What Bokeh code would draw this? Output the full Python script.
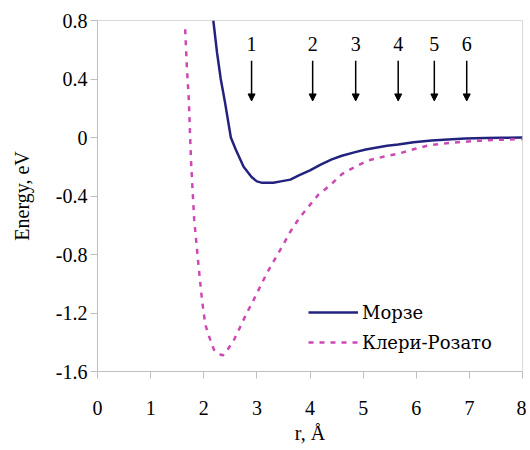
from bokeh.plotting import figure
from bokeh.models import (ColumnDataSource, Arrow, NormalHead, LabelSet,
                          FixedTicker, Range1d)
from bokeh.core.properties import value
from bokeh.embed import file_html
from bokeh.resources import INLINE

# ---- data ----
morse_r = [2.18, 2.25, 2.32, 2.40, 2.51, 2.60, 2.75, 2.90, 3.00, 3.10, 3.20, 3.31,
           3.45, 3.63, 3.80, 4.00, 4.20, 4.41, 4.60, 4.85, 5.05, 5.29, 5.45, 5.66,
           5.95, 6.29, 6.60, 6.92, 7.30, 7.60, 8.00]
morse_e = [0.80, 0.58, 0.40, 0.24, 0.00, -0.08, -0.20, -0.27, -0.30, -0.31, -0.31, -0.31,
           -0.30, -0.288, -0.258, -0.225, -0.185, -0.150, -0.125, -0.100, -0.082, -0.066,
           -0.056, -0.048, -0.032, -0.020, -0.013, -0.007, -0.004, -0.002, 0.0]

cr_r = [1.65, 1.68, 1.72, 1.76, 1.82, 1.90, 1.97, 2.03, 2.09, 2.19, 2.28, 2.36, 2.45,
        2.56, 2.68, 2.81, 2.94, 3.06, 3.20, 3.35, 3.50, 3.63, 3.80, 3.97, 4.16, 4.38,
        4.60, 4.85, 5.10, 5.40, 5.66, 5.95, 6.23, 6.50, 6.79, 7.15, 7.54, 8.00]
cr_e = [0.74, 0.50, 0.25, -0.16, -0.56, -0.87, -1.12, -1.28, -1.35, -1.45, -1.48, -1.49,
        -1.45, -1.39, -1.30, -1.20, -1.11, -1.02, -0.92, -0.825, -0.73, -0.644, -0.55,
        -0.474, -0.39, -0.327, -0.25, -0.20, -0.156, -0.13, -0.111, -0.08, -0.054,
        -0.042, -0.032, -0.023, -0.016, -0.01]

arrow_x = [2.9, 4.05, 4.86, 5.66, 6.34, 6.95]
arrow_labels = ["1", "2", "3", "4", "5", "6"]
arrow_top = 0.525
arrow_tip = 0.25
label_y = 0.64

x_ticks = [0, 1, 2, 3, 4, 5, 6, 7, 8]
y_ticks = [-1.6, -1.2, -0.8, -0.4, 0, 0.4, 0.8]
y_tick_labels = ["-1.6", "-1.2", "-0.8", "-0.4", "0", "0.4", "0.8"]

series_names = ["Морзе", "Клери-Розато"]
colors = ["#23237f", "#cc48b4"]

FONT = "'Liberation Serif', 'Times New Roman', serif"
LEG_FONT = "DejaVu Serif"
FS = "20px"

p = figure(width=526, height=446, output_backend="svg", toolbar_location=None,
           x_range=Range1d(0, 8), y_range=Range1d(-1.6, 0.8),
           min_border_left=97, min_border_right=4, min_border_top=20, min_border_bottom=75)
p.background_fill_color = "white"
p.border_fill_color = "white"
p.outline_line_color = "#d9d9d9"
p.xgrid.visible = False
p.ygrid.visible = False

p.line(morse_r, morse_e, line_color=colors[0], line_width=2.5, legend_label=series_names[0])
p.line(cr_r, cr_e, line_color=colors[1], line_width=2.5, line_dash="5 6",
       legend_label=series_names[1])

for ax in (p.xaxis[0], p.yaxis[0]):
    ax.axis_line_color = "#bfbfbf"
    ax.major_tick_line_color = "#bfbfbf"
    ax.minor_tick_line_color = None
    ax.major_tick_in = 0
    ax.major_tick_out = 7
    ax.major_label_text_font = FONT
    ax.major_label_text_font_size = FS
    ax.major_label_text_font_style = "normal"
    ax.major_label_text_color = "black"
    ax.axis_label_text_font = FONT
    ax.axis_label_text_font_size = FS
    ax.axis_label_text_font_style = "normal"
    ax.axis_label_text_color = "black"

p.xaxis.ticker = FixedTicker(ticks=x_ticks)
p.yaxis.ticker = FixedTicker(ticks=y_ticks)
p.yaxis.major_label_overrides = {t: s for t, s in zip(y_ticks, y_tick_labels)}
p.xaxis.major_label_standoff = 22
p.yaxis.major_label_standoff = 3

p.yaxis.axis_label = "Energy, eV"
p.yaxis.axis_label_standoff = 20
p.xaxis.axis_label = "r, Å"
p.xaxis.axis_label_standoff = 4

# arrows with numbers
asrc = ColumnDataSource(dict(x=arrow_x, y0=[arrow_top] * len(arrow_x),
                             y1=[arrow_tip] * len(arrow_x), ly=[label_y] * len(arrow_x),
                             t=arrow_labels))
p.add_layout(Arrow(end=NormalHead(size=7, fill_color="black", line_color="black", line_width=1),
                   x_start="x", y_start="y0", x_end="x", y_end="y1", source=asrc,
                   line_color="black", line_width=1.5))
p.add_layout(LabelSet(x="x", y="ly", text="t", source=asrc, text_align="center",
                      text_baseline="middle", text_font=value(FONT), text_font_size=value(FS),
                      text_font_style=value("normal"), text_color="black"))

lg = p.legend[0]
lg.location = (211, 14)
lg.border_line_color = None
lg.background_fill_alpha = 0
lg.padding = 0
lg.margin = 0
lg.spacing = 0
lg.glyph_width = 50
lg.glyph_height = 30
lg.label_height = 30
lg.label_standoff = 4
lg.label_text_font = LEG_FONT
lg.label_text_font_size = "18px"
lg.label_text_font_style = "normal"
lg.label_text_color = "black"

open("out.html", "w").write(file_html(p, INLINE))
